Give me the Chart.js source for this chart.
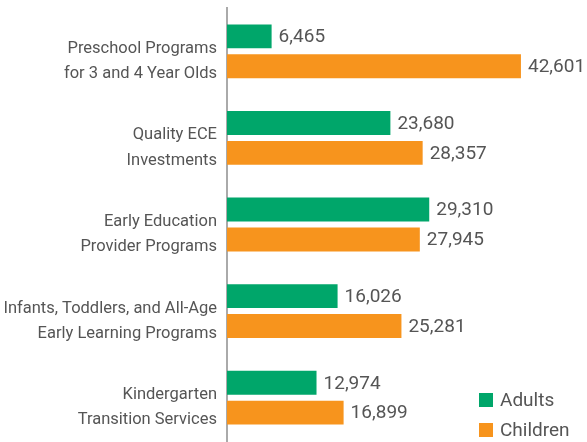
<!DOCTYPE html>
<html>
<head>
<meta charset="utf-8">
<script src="https://cdn.jsdelivr.net/npm/chart.js@4.4.1/dist/chart.umd.min.js"></script>
<style>
  html, body { margin: 0; padding: 0; background: #fff; }
  #wrap { width: 587px; height: 442px; }
</style>
</head>
<body>
<div id="wrap"><canvas id="chart"></canvas></div>
<script>
const categorias = [
    ['Preschool Programs', 'for 3 and 4 Year Olds'],
    ['Quality ECE', 'Investments'],
    ['Early Education', 'Provider Programs'],
    ['Infants, Toddlers, and All-Age', 'Early Learning Programs'],
    ['Kindergarten', 'Transition Services']
];
const adultos = [6465, 23680, 29310, 16026, 12974];
const ninos = [42601, 28357, 27945, 25281, 16899];

const FUENTE = '"Liberation Sans Narrow", Roboto, sans-serif';
const GRIS = '#555555';

// etiquetas de valor al final de cada barra
const etiquetasValor = {
    id: 'etiquetasValor',
    afterDatasetsDraw(chart) {
        const ctx = chart.ctx;
        ctx.save();
        ctx.font = '19px ' + FUENTE;
        ctx.fillStyle = GRIS;
        ctx.textBaseline = 'middle';
        ctx.textAlign = 'left';
        chart.data.datasets.forEach((ds, i) => {
            chart.getDatasetMeta(i).data.forEach((bar, j) => {
                ctx.fillText(ds.data[j].toLocaleString('en-US'), bar.x + 7, bar.y + 1);
            });
        });
        ctx.restore();
    }
};

// leyenda abajo a la derecha
const leyenda = {
    id: 'leyenda',
    afterDraw(chart) {
        const ctx = chart.ctx;
        ctx.save();
        ctx.font = '19px ' + FUENTE;
        ctx.textBaseline = 'middle';
        chart.data.datasets.forEach((ds, i) => {
            const y = 400 + i * 30;
            ctx.fillStyle = ds.backgroundColor;
            ctx.fillRect(479, y - 7, 14, 14);
            ctx.fillStyle = GRIS;
            ctx.fillText(ds.label, 500, y + 1);
        });
        ctx.restore();
    }
};

const datos = {
    labels: categorias,
    datasets: [{
        label: 'Adults',
        backgroundColor: 'rgb(0, 166, 106)',
        data: adultos
    }, {
        label: 'Children',
        backgroundColor: 'rgb(247, 148, 29)',
        data: ninos
    }]
};

const config = {
    type: 'bar',
    data: datos,
    options: {
        indexAxis: 'y',
        responsive: true,
        maintainAspectRatio: false,
        animation: false,
        categoryPercentage: 0.69,
        barPercentage: 0.8,
        layout: { padding: { top: 8, bottom: 1, left: 0, right: 15 } },
        scales: {
            x: {
                display: false,
                min: 0,
                max: 50000
            },
            y: {
                afterFit(scale) {
                    scale.width = 227;
                    scale.paddingTop = 0;
                    scale.paddingBottom = 0;
                },
                grid: { display: false },
                border: { display: true, color: '#aaaaaa', width: 2 },
                ticks: {
                    padding: 2,
                    labelOffset: 10,
                    color: GRIS,
                    font: { family: FUENTE, size: 16.5, lineHeight: 1.52 }
                }
            }
        },
        plugins: {
            legend: { display: false },
            tooltip: { enabled: false }
        }
    },
    plugins: [etiquetasValor, leyenda]
};

const miGrafico = new Chart(document.getElementById('chart'), config);
</script>
</body>
</html>
